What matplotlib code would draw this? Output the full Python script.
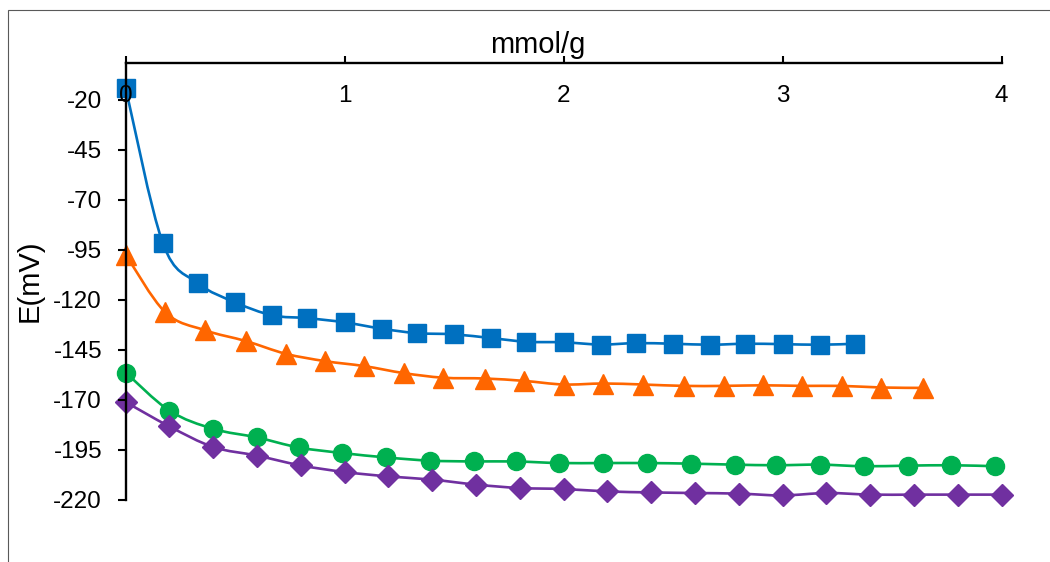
import matplotlib
matplotlib.use("Agg")
import matplotlib.pyplot as plt
from matplotlib.path import Path
from matplotlib.patches import PathPatch, Rectangle

# data
x_blue = [0, 0.17, 0.33, 0.5, 0.67, 0.83, 1.0, 1.17, 1.33, 1.5, 1.67,
          1.83, 2.0, 2.17, 2.33, 2.5, 2.67, 2.83, 3.0, 3.17, 3.33]
y_blue = [-14.1, -91.8, -111.7, -121.3, -127.8, -129.2, -131.3, -134.5, -136.7, -137.3, -139.2,
          -141.0, -141.3, -142.4, -141.7, -142.0, -142.5, -142.0, -142.2, -142.5, -142.0]

x_orange = [0, 0.18, 0.36, 0.55, 0.73, 0.91, 1.09, 1.27, 1.45, 1.64, 1.82,
            2.0, 2.18, 2.36, 2.55, 2.73, 2.91, 3.09, 3.27, 3.45, 3.64]
y_orange = [-97.4, -126.2, -135.2, -140.7, -147.0, -150.7, -153.2, -156.7, -159.0, -159.4, -160.6,
            -162.4, -161.9, -162.4, -163.1, -163.1, -162.8, -163.1, -163.1, -163.9, -164.1]

x_green = [0, 0.2, 0.4, 0.6, 0.79, 0.99, 1.19, 1.39, 1.59, 1.78, 1.98,
           2.18, 2.38, 2.58, 2.78, 2.97, 3.17, 3.37, 3.57, 3.77, 3.97]
y_green = [-156.4, -175.5, -184.6, -188.9, -193.9, -196.7, -198.9, -200.5, -200.9, -200.9, -201.7,
           -201.7, -201.7, -202.0, -202.5, -202.8, -202.5, -203.3, -203.0, -202.8, -203.3]

x_purple = [0, 0.2, 0.4, 0.6, 0.8, 1.0, 1.2, 1.4, 1.6, 1.8, 2.0,
            2.2, 2.4, 2.6, 2.8, 3.0, 3.2, 3.4, 3.6, 3.8, 4.0]
y_purple = [-171.2, -183.4, -193.7, -198.0, -202.9, -206.2, -208.4, -210.0, -212.5, -214.2, -214.7,
            -215.9, -216.4, -216.7, -217.0, -217.9, -216.7, -217.5, -217.5, -217.5, -217.5]

x_ticks = [0, 1, 2, 3, 4]
y_ticks = [-220, -195, -170, -145, -120, -95, -70, -45, -20]

plt.rcParams['font.family'] = ['Liberation Sans', 'DejaVu Sans']
plt.rcParams['font.size'] = 17.5
plt.rcParams['axes.unicode_minus'] = False


def smooth(x, y):
    # excel style smoothed line, bezier through the points
    n = len(x)
    verts = [(x[0], y[0])]
    codes = [Path.MOVETO]
    for i in range(n - 1):
        a = max(i - 1, 0)
        b = min(i + 2, n - 1)
        c1 = (x[i] + (x[i + 1] - x[a]) / 6, y[i] + (y[i + 1] - y[a]) / 6)
        c2 = (x[i + 1] - (x[b] - x[i]) / 6, y[i + 1] - (y[b] - y[i]) / 6)
        verts += [c1, c2, (x[i + 1], y[i + 1])]
        codes += [Path.CURVE4] * 3
    return Path(verts, codes)


fig = plt.figure(figsize=(10.5, 5.62), dpi=100)
ax = fig.add_axes([0.1197, 0.111, 0.8343, 0.777])
ax.set_axisbelow(False)

series = [
    (x_blue, y_blue, '#0070C0', 's', 13),
    (x_orange, y_orange, '#FF6600', '^', 14),
    (x_green, y_green, '#00B050', 'o', 13),
    (x_purple, y_purple, '#7030A0', 'D', 11),
]
for xs, ys, col, mk, ms in series:
    ax.add_patch(PathPatch(smooth(xs, ys), facecolor='none', edgecolor=col, lw=1.9, clip_on=False))
    ax.plot(xs, ys, linestyle='none', marker=mk, markersize=ms, color=col, clip_on=False)

ax.set_xlim(0, 4)
ax.set_ylim(-220, -1.5)
ax.set_xticks(x_ticks)
ax.set_xticklabels([str(t) for t in x_ticks])
ax.set_yticks(y_ticks)

for s in ['right', 'bottom']:
    ax.spines[s].set_visible(False)
for s in ['top', 'left']:
    ax.spines[s].set_linewidth(1.7)

ax.tick_params(axis='x', bottom=False, top=True, labelbottom=False, labeltop=True,
               direction='out', length=5, width=1.5, pad=-37)
ax.tick_params(axis='y', direction='out', length=6, width=1.5, pad=11)

ax.set_xlabel('mmol/g', fontsize=21)
ax.xaxis.set_label_position('top')
ax.xaxis.set_label_coords(0.4707, 1.022)
fig.text(30 / 1050, 1 - 281 / 562, 'E(mV)', rotation=90, ha='center', va='center', fontsize=21)

# outer chart border
fig.patches.append(Rectangle((8 / 1050, -0.1), 2, 1.083, transform=fig.transFigure,
                             fill=False, edgecolor='#595959', lw=0.8))

fig.savefig('out.png', dpi=100)
